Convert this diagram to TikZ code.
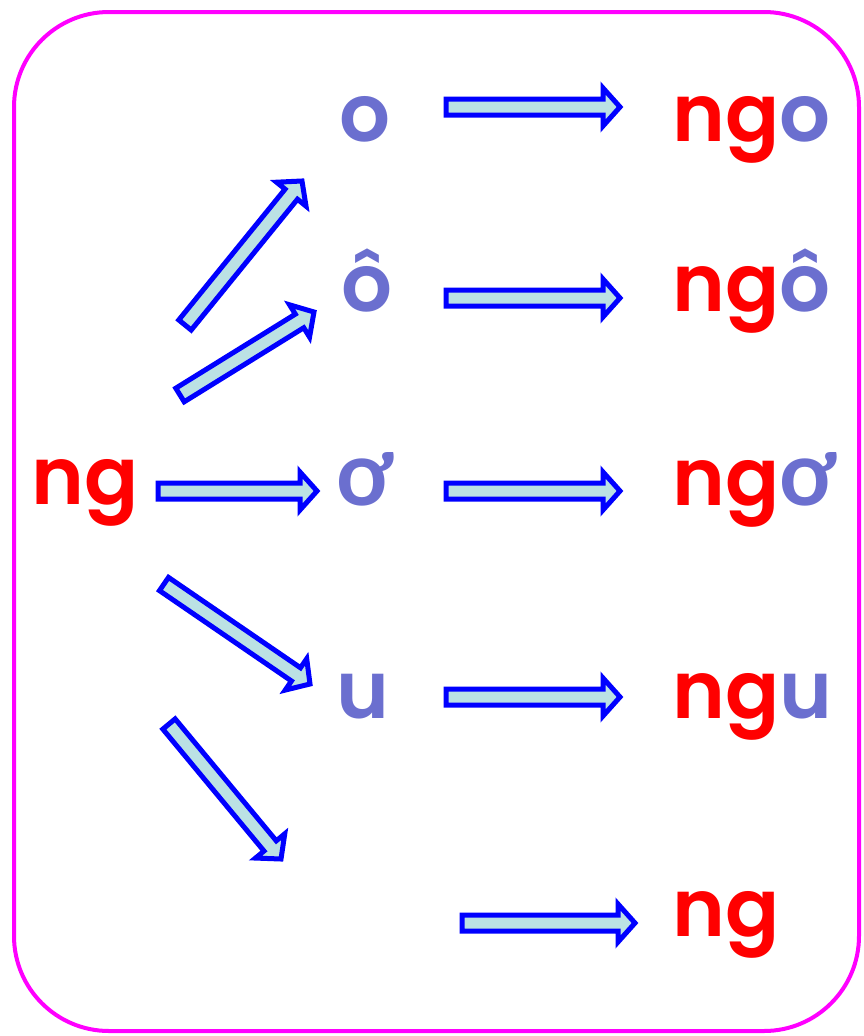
\documentclass[tikz,border=0pt]{standalone}
\usepackage{fontspec}
\setmainfont{Poppins}[BoldFont={Poppins SemiBold}]
\newfontfamily\horn{Lato}[Scale=1.12, BoldFont={Lato Bold}]
\usetikzlibrary{calc}
\definecolor{ngred}{HTML}{FF0000}
\definecolor{vow}{HTML}{6B6FCF}
\definecolor{afill}{HTML}{BBE1E4}
\definecolor{frame}{HTML}{FF00FF}
\newcommand\blockarrow[2]{%
  \draw[barrow]
    ($(#1)!8pt!-90:(#2)$)
    -- ($($(#2)!17pt!(#1)$)!8pt!-90:(#2)$)
    -- ($($(#2)!17pt!(#1)$)!19pt!-90:(#2)$)
    -- (#2)
    -- ($($(#2)!17pt!(#1)$)!19pt!90:(#2)$)
    -- ($($(#2)!17pt!(#1)$)!8pt!90:(#2)$)
    -- ($(#1)!8pt!90:(#2)$) -- cycle;}
\tikzset{
  barrow/.style={draw=blue, fill=afill, line width=5pt, line join=miter},
  word/.style={anchor=base west, inner sep=0pt, font=\fontsize{80}{80}\selectfont\bfseries},
}
\begin{document}
\begin{tikzpicture}[x=1pt,y=-1pt]
\useasboundingbox (0,0) rectangle (864,1036);
\draw[frame, line width=4pt, rounded corners=95pt] (14,12) rectangle (859,1031);
% left
\node[word, text=ngred] (ng) at (31,504) {ng};
% vowels
\node[word, text=vow] (o) at (339,141) {o};
\node[word, text=vow] (oo) at (341,311) {ô};
\node[word, text=vow] (oh) at (336,505) {\horn ơ};
\node[word, text=vow] (u) at (336,718) {u};
% results
\node[word] (ngo) at (672,141) {\textcolor{ngred}{ng}\textcolor{vow}{o}};
\node[word] (ngoo) at (672,311) {\textcolor{ngred}{ng}\textcolor{vow}{ô}};
\node[word] (ngoh) at (672,505) {\textcolor{ngred}{ng}\textcolor{vow}{\horn ơ}};
\node[word] (ngu) at (672,718) {\textcolor{ngred}{ng}\textcolor{vow}{u}};
\node[word, text=ngred] (ngx) at (672,936) {ng};
% arrow ends
\coordinate (d1a) at (185,325); \coordinate (d1b) at (302,181);
\coordinate (d2a) at (180,395); \coordinate (d2b) at (314,312);
\coordinate (d3a) at (164,584); \coordinate (d3b) at (310,684);
\coordinate (d4a) at (169,724); \coordinate (d4b) at (281,859);
\coordinate (h0a) at (158,491); \coordinate (h0b) at (317,491);
\coordinate (h1a) at (446,107); \coordinate (h1b) at (620,107);
\coordinate (h2a) at (446,298); \coordinate (h2b) at (620,298);
\coordinate (h3a) at (446,491); \coordinate (h3b) at (620,491);
\coordinate (h4a) at (446,697); \coordinate (h4b) at (620,697);
\coordinate (h5a) at (462,923); \coordinate (h5b) at (635,923);
\blockarrow{d1a}{d1b}
\blockarrow{d2a}{d2b}
\blockarrow{d3a}{d3b}
\blockarrow{d4a}{d4b}
\blockarrow{h0a}{h0b}
\blockarrow{h1a}{h1b}
\blockarrow{h2a}{h2b}
\blockarrow{h3a}{h3b}
\blockarrow{h4a}{h4b}
\blockarrow{h5a}{h5b}
\end{tikzpicture}
\end{document}
